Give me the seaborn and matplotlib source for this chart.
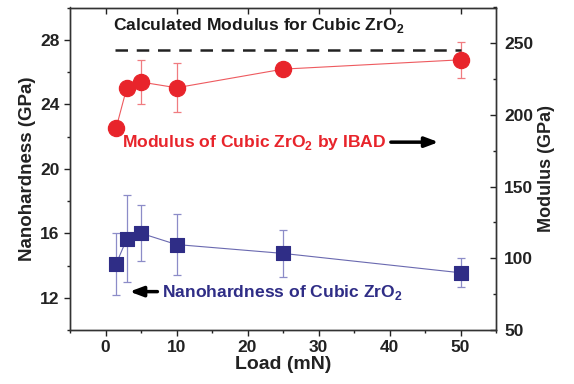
import matplotlib
matplotlib.use("Agg")
import matplotlib.pyplot as plt
import seaborn as sns
import pandas as pd
from matplotlib.ticker import MultipleLocator

# ---- data ----
load_mN = [1.5, 3, 5, 10, 25, 50]
modulus_gpa = [191, 219, 223, 219, 232, 238.5]
modulus_err = [0, 0, 15.5, 17, 0, 12.5]
hardness_gpa = [14.1, 15.65, 16.0, 15.3, 14.75, 13.55]
hardness_err = [1.9, 2.7, 1.75, 1.9, 1.45, 0.9]
calc_modulus = 245.5
calc_range = [1.3, 50]

red = "#e8242b"
blue = "#2f2d86"

sns.set_style("ticks")
plt.rcParams["font.family"] = ["Liberation Sans", "DejaVu Sans"]
plt.rcParams["font.weight"] = "bold"
plt.rcParams["mathtext.fontset"] = "custom"
plt.rcParams["mathtext.rm"] = "Liberation Sans:bold"
plt.rcParams["mathtext.bf"] = "Liberation Sans:bold"

fig = plt.figure(figsize=(5.74, 3.84), dpi=100)
ax = fig.add_axes([70/574, 1-330/384, (496-70)/574, (330-7.5)/384])
ax2 = ax.twinx()

dh = pd.DataFrame({"load": load_mN, "h": hardness_gpa})
dm = pd.DataFrame({"load": load_mN, "m": modulus_gpa})

# hardness on left axis
ax.errorbar(load_mN, hardness_gpa, yerr=hardness_err, fmt="none",
            ecolor="#8c8cc8", elinewidth=0.9, capsize=3, capthick=0.9, zorder=2)
sns.lineplot(data=dh, x="load", y="h", ax=ax, color="#6a69b0", lw=0.8, zorder=3)
sns.scatterplot(data=dh, x="load", y="h", ax=ax, color=blue, marker="s", s=100,
                edgecolor=blue, zorder=4)

# modulus on right axis
ax2.errorbar(load_mN, modulus_gpa, yerr=modulus_err, fmt="none",
             ecolor="#f07c80", elinewidth=0.9, capsize=3, capthick=0.9, zorder=2)
sns.lineplot(data=dm, x="load", y="m", ax=ax2, color="#ee5a5f", lw=0.8, zorder=3)
sns.scatterplot(data=dm, x="load", y="m", ax=ax2, color=red, marker="o", s=135,
                edgecolor=red, zorder=4)
ax2.plot(calc_range, [calc_modulus, calc_modulus], ls=(0, (5, 3.5)), color="#222222", lw=1.8)

ax.set_xlim(-5, 55)
ax.set_ylim(10, 30)
ax2.set_ylim(50, 275)

ax.xaxis.set_major_locator(MultipleLocator(10))
ax.xaxis.set_minor_locator(MultipleLocator(5))
ax.yaxis.set_major_locator(MultipleLocator(4))
ax.yaxis.set_minor_locator(MultipleLocator(2))
ax2.yaxis.set_major_locator(MultipleLocator(50))
ax2.yaxis.set_minor_locator(MultipleLocator(25))
ax.set_yticks([12, 16, 20, 24, 28])

for a in (ax, ax2):
    for s in a.spines.values():
        s.set_visible(True)
        s.set_color("#333333")
        s.set_linewidth(1.0)

TS = 12.5
ax.tick_params(axis="x", which="both", direction="out", top=True, bottom=True,
               labelsize=TS, colors="#222222", pad=3)
ax.tick_params(axis="x", which="major", length=4, width=1)
ax.tick_params(axis="x", which="minor", length=2.5, width=1, top=False)
ax.tick_params(axis="y", which="both", direction="out", labelsize=TS, colors="#222222")
ax.tick_params(axis="y", which="major", length=4, width=1)
ax.tick_params(axis="y", which="minor", length=2.5, width=1)
ax2.tick_params(axis="y", which="both", direction="in", labelsize=TS, colors="#222222", pad=6)
ax2.tick_params(axis="y", which="major", length=4, width=1)
ax2.tick_params(axis="y", which="minor", length=2.5, width=1)
for t in ax.xaxis.get_major_ticks():
    t.tick2line.set_marker(3)  # top ticks point inward
    t.tick2line.set_markersize(4)

for lab in ax.get_xticklabels() + ax.get_yticklabels() + ax2.get_yticklabels():
    lab.set_fontweight("bold")

ax.set_xlabel("Load (mN)", fontsize=14, fontweight="bold", color="#222222", labelpad=1)
ax.set_ylabel("Nanohardness (GPa)", fontsize=13.5, fontweight="bold", color="#222222", labelpad=3)
ax2.set_ylabel("Modulus (GPa)", fontsize=13, fontweight="bold", color="#222222", labelpad=3)

AS = 12.6
ax.text(1.1, 28.9, r"Calculated Modulus for Cubic ZrO$_2$", fontsize=AS,
        fontweight="bold", color="#1a1a1a", ha="left", va="center")
ax.text(2.3, 21.6, r"Modulus of Cubic ZrO$_2$ by IBAD", fontsize=AS,
        fontweight="bold", color=red, ha="left", va="center")
ax.annotate("", xy=(47.3, 21.65), xytext=(39.8, 21.65),
            arrowprops=dict(arrowstyle="-|>,head_length=0.8,head_width=0.3", color="black", lw=2.5))
ax.text(8.0, 12.3, r"Nanohardness of Cubic ZrO$_2$", fontsize=AS,
        fontweight="bold", color=blue, ha="left", va="center")
ax.annotate("", xy=(3.0, 12.38), xytext=(7.7, 12.38),
            arrowprops=dict(arrowstyle="-|>,head_length=0.8,head_width=0.3", color="black", lw=2.5))

fig.savefig("out.png", dpi=100)
